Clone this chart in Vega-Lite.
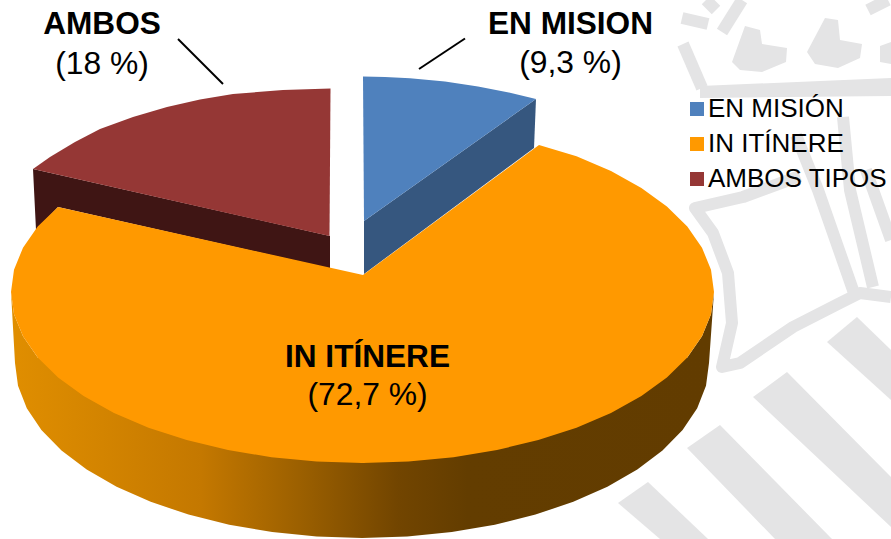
{
"$schema":"https://vega.github.io/schema/vega-lite/v6.json",
"width":891,"height":539,"padding":0,"autosize":{"type":"none"},
"background":"#ffffff","view":{"stroke":null},
"datasets":{
"wmFill":[
{"g":"a","i":1,"x":618,"y":503},{"g":"a","i":2,"x":648,"y":482},{"g":"a","i":3,"x":708,"y":539},{"g":"a","i":4,"x":660,"y":539},
{"g":"b","i":1,"x":687,"y":448},{"g":"b","i":2,"x":720,"y":425},{"g":"b","i":3,"x":832,"y":539},{"g":"b","i":4,"x":775,"y":539},
{"g":"c","i":1,"x":753,"y":397},{"g":"c","i":2,"x":787,"y":372},{"g":"c","i":3,"x":891,"y":477},{"g":"c","i":4,"x":891,"y":527},
{"g":"d","i":1,"x":827,"y":342},{"g":"d","i":2,"x":857,"y":317},{"g":"d","i":3,"x":891,"y":350},{"g":"d","i":4,"x":891,"y":400},
{"g":"band","i":1,"x":700,"y":86},{"g":"band","i":2,"x":891,"y":78},{"g":"band","i":3,"x":891,"y":96},{"g":"band","i":4,"x":700,"y":98},
{"g":"crown1","i":1,"x":732,"y":62},{"g":"crown1","i":2,"x":745,"y":26},{"g":"crown1","i":3,"x":760,"y":30},{"g":"crown1","i":4,"x":762,"y":44},{"g":"crown1","i":5,"x":787,"y":48},{"g":"crown1","i":6,"x":786,"y":62},{"g":"crown1","i":7,"x":762,"y":72},{"g":"crown1","i":8,"x":740,"y":70},
{"g":"crown2","i":1,"x":807,"y":52},{"g":"crown2","i":2,"x":825,"y":18},{"g":"crown2","i":3,"x":838,"y":20},{"g":"crown2","i":4,"x":840,"y":40},{"g":"crown2","i":5,"x":862,"y":44},{"g":"crown2","i":6,"x":860,"y":58},{"g":"crown2","i":7,"x":838,"y":68},{"g":"crown2","i":8,"x":815,"y":64},
{"g":"crown3","i":1,"x":880,"y":46},{"g":"crown3","i":2,"x":891,"y":42},{"g":"crown3","i":3,"x":891,"y":64},{"g":"crown3","i":4,"x":880,"y":62}
],
"wmLine":[
{"g":"p1","i":1,"x":683,"y":44},{"g":"p1","i":2,"x":702,"y":88},
{"g":"p2","i":1,"x":682,"y":18},{"g":"p2","i":2,"x":708,"y":24},
{"g":"p3","i":1,"x":706,"y":0},{"g":"p3","i":2,"x":716,"y":10},
{"g":"p4","i":1,"x":722,"y":32},{"g":"p4","i":2,"x":742,"y":0},
{"g":"p5","i":1,"x":868,"y":10},{"g":"p5","i":2,"x":888,"y":0},
{"g":"p6","i":1,"x":796,"y":135},{"g":"p6","i":2,"x":818,"y":190},{"g":"p6","i":3,"x":854,"y":293},
{"g":"p7","i":1,"x":843,"y":117},{"g":"p7","i":2,"x":850,"y":190},{"g":"p7","i":3,"x":873,"y":287},
{"g":"p8","i":1,"x":866,"y":170},{"g":"p8","i":2,"x":891,"y":240},
{"g":"p9","i":1,"x":800,"y":176},{"g":"p9","i":2,"x":743,"y":197},{"g":"p9","i":3,"x":695,"y":208},{"g":"p9","i":4,"x":713,"y":233},{"g":"p9","i":5,"x":728,"y":273},{"g":"p9","i":6,"x":732,"y":323},{"g":"p9","i":7,"x":722,"y":367},{"g":"p9","i":8,"x":740,"y":363},{"g":"p9","i":9,"x":793,"y":327},{"g":"p9","i":10,"x":840,"y":303},{"g":"p9","i":11,"x":860,"y":293},{"g":"p9","i":12,"x":891,"y":297}
],
"redSide":[{"i":1,"x":33,"y":169},{"i":2,"x":330,"y":236},{"i":3,"x":330,"y":268.5},{"i":4,"x":58,"y":207},{"i":5,"x":36,"y":230}],
"blueSide":[{"i":1,"x":536,"y":99},{"i":2,"x":364,"y":221},{"i":3,"x":364,"y":274},{"i":4,"x":534,"y":148}],
"orangeSide":[
{"i":1,"x":714,"y":292},{"i":2,"x":711,"y":314.3},{"i":3,"x":702,"y":336.3},{"i":4,"x":687.3,"y":357.4},{"i":5,"x":362.5,"y":463},{"i":6,"x":37.7,"y":357.4},{"i":7,"x":23,"y":336.3},{"i":8,"x":14,"y":314.3},{"i":9,"x":11,"y":292},
{"i":10,"x":15,"y":363},{"i":11,"x":18,"y":385.8},{"i":12,"x":26.8,"y":408.3},{"i":13,"x":41.4,"y":430},{"i":14,"x":61.5,"y":450.5},{"i":15,"x":86.7,"y":469.5},{"i":16,"x":116.6,"y":486.7},{"i":17,"x":150.7,"y":501.8},{"i":18,"x":188.5,"y":514.6},{"i":19,"x":229.2,"y":524.7},{"i":20,"x":272.2,"y":532},{"i":21,"x":316.7,"y":536.5},{"i":22,"x":362,"y":538},{"i":23,"x":407.3,"y":536.5},{"i":24,"x":451.8,"y":532},{"i":25,"x":494.8,"y":524.7},{"i":26,"x":535.5,"y":514.6},{"i":27,"x":573.3,"y":501.8},{"i":28,"x":607.4,"y":486.7},{"i":29,"x":637.3,"y":469.5},{"i":30,"x":662.5,"y":450.5},{"i":31,"x":682.6,"y":430},{"i":32,"x":697.2,"y":408.3},{"i":33,"x":706,"y":385.8},{"i":34,"x":709,"y":363}
],
"tops":[
{"s":"EN MISIÓN","i":1,"x":363,"y":76.5},{"s":"EN MISIÓN","i":2,"x":385,"y":77},{"s":"EN MISIÓN","i":3,"x":410,"y":78.2},{"s":"EN MISIÓN","i":4,"x":445,"y":81.5},{"s":"EN MISIÓN","i":5,"x":478,"y":86.4},{"s":"EN MISIÓN","i":6,"x":510,"y":92.7},{"s":"EN MISIÓN","i":7,"x":536,"y":99},{"s":"EN MISIÓN","i":8,"x":364,"y":221},
{"s":"AMBOS TIPOS","i":1,"x":33,"y":169},{"s":"AMBOS TIPOS","i":2,"x":50,"y":157},{"s":"AMBOS TIPOS","i":3,"x":75,"y":142},{"s":"AMBOS TIPOS","i":4,"x":100,"y":129},{"s":"AMBOS TIPOS","i":5,"x":133,"y":117},{"s":"AMBOS TIPOS","i":6,"x":167,"y":107},{"s":"AMBOS TIPOS","i":7,"x":200,"y":99.5},{"s":"AMBOS TIPOS","i":8,"x":233,"y":94},{"s":"AMBOS TIPOS","i":9,"x":283,"y":90},{"s":"AMBOS TIPOS","i":10,"x":330.5,"y":88.5},{"s":"AMBOS TIPOS","i":11,"x":329.5,"y":236},
{"s":"IN ITÍNERE","i":1,"x":539,"y":145},{"s":"IN ITÍNERE","i":2,"x":576.5,"y":156.3},{"s":"IN ITÍNERE","i":3,"x":611,"y":171.1},{"s":"IN ITÍNERE","i":4,"x":641.4,"y":187.9},{"s":"IN ITÍNERE","i":5,"x":666.9,"y":206.5},{"s":"IN ITÍNERE","i":6,"x":687.3,"y":226.6},{"s":"IN ITÍNERE","i":7,"x":702,"y":247.7},{"s":"IN ITÍNERE","i":8,"x":711,"y":269.7},{"s":"IN ITÍNERE","i":9,"x":714,"y":292},{"s":"IN ITÍNERE","i":10,"x":711,"y":314.3},{"s":"IN ITÍNERE","i":11,"x":702,"y":336.3},{"s":"IN ITÍNERE","i":12,"x":687.3,"y":357.4},{"s":"IN ITÍNERE","i":13,"x":666.9,"y":377.5},{"s":"IN ITÍNERE","i":14,"x":641.4,"y":396.1},{"s":"IN ITÍNERE","i":15,"x":611,"y":412.9},{"s":"IN ITÍNERE","i":16,"x":576.5,"y":427.7},{"s":"IN ITÍNERE","i":17,"x":538.3,"y":440.1},{"s":"IN ITÍNERE","i":18,"x":497,"y":450},{"s":"IN ITÍNERE","i":19,"x":453.5,"y":457.2},{"s":"IN ITÍNERE","i":20,"x":408.4,"y":461.5},{"s":"IN ITÍNERE","i":21,"x":362.5,"y":463},{"s":"IN ITÍNERE","i":22,"x":316.6,"y":461.5},{"s":"IN ITÍNERE","i":23,"x":271.5,"y":457.2},{"s":"IN ITÍNERE","i":24,"x":228,"y":450},{"s":"IN ITÍNERE","i":25,"x":186.7,"y":440.1},{"s":"IN ITÍNERE","i":26,"x":148.5,"y":427.7},{"s":"IN ITÍNERE","i":27,"x":114,"y":412.9},{"s":"IN ITÍNERE","i":28,"x":83.6,"y":396.1},{"s":"IN ITÍNERE","i":29,"x":58.1,"y":377.5},{"s":"IN ITÍNERE","i":30,"x":37.7,"y":357.4},{"s":"IN ITÍNERE","i":31,"x":23,"y":336.3},{"s":"IN ITÍNERE","i":32,"x":14,"y":314.3},{"s":"IN ITÍNERE","i":33,"x":11,"y":292},{"s":"IN ITÍNERE","i":34,"x":14,"y":269.7},{"s":"IN ITÍNERE","i":35,"x":23,"y":247.7},{"s":"IN ITÍNERE","i":36,"x":37.7,"y":226.6},{"s":"IN ITÍNERE","i":37,"x":58,"y":207},{"s":"IN ITÍNERE","i":38,"x":363,"y":275}
],
"leaders":[{"x":178,"y":39,"x2":223,"y2":84},{"x":419,"y":69,"x2":465,"y2":38.5}],
"names":[{"t":"AMBOS","x":102,"y":33.5},{"t":"EN MISION","x":570.5,"y":33.5},{"t":"IN ITÍNERE","x":367.5,"y":366.5}],
"pcts":[{"t":"(18 %)","x":102,"y":73.5},{"t":"(9,3 %)","x":570.5,"y":73},{"t":"(72,7 %)","x":367.5,"y":405}]
},
"encoding":{
"x":{"field":"x","type":"quantitative","scale":{"domain":[0,891],"nice":false,"zero":false},"axis":null},
"y":{"field":"y","type":"quantitative","scale":{"domain":[539,0],"nice":false,"zero":false},"axis":null}
},
"layer":[
{"data":{"name":"wmFill"},"mark":{"type":"line","filled":true,"color":"#e4e4e5","clip":true},"encoding":{"detail":{"field":"g"},"order":{"field":"i","type":"quantitative"}}},
{"data":{"name":"wmLine"},"mark":{"type":"line","color":"#e4e4e5","strokeWidth":12,"strokeJoin":"round","clip":true},"encoding":{"detail":{"field":"g"},"order":{"field":"i","type":"quantitative"}}},
{"data":{"name":"redSide"},"mark":{"type":"line","filled":true,"color":"#3f1514"},"encoding":{"order":{"field":"i","type":"quantitative"}}},
{"data":{"name":"blueSide"},"mark":{"type":"line","filled":true,"color":"#36577f"},"encoding":{"order":{"field":"i","type":"quantitative"}}},
{"data":{"name":"orangeSide"},"mark":{"type":"line","filled":true,"color":{"gradient":"linear","x1":0,"y1":0,"x2":1,"y2":0,"stops":[{"offset":0,"color":"#e08e00"},{"offset":0.13,"color":"#d38400"},{"offset":0.27,"color":"#c47800"},{"offset":0.41,"color":"#9c6000"},{"offset":0.55,"color":"#724500"},{"offset":0.65,"color":"#633d00"},{"offset":1,"color":"#623c00"}]}},"encoding":{"order":{"field":"i","type":"quantitative"}}},
{"data":{"name":"tops"},"mark":{"type":"line","filled":true},"encoding":{
"order":{"field":"i","type":"quantitative"},
"color":{"field":"s","type":"nominal","scale":{"domain":["EN MISIÓN","IN ITÍNERE","AMBOS TIPOS"],"range":["#4f81bd","#ff9900","#953735"]},
"legend":{"title":null,"orient":"none","legendX":684,"legendY":96,"symbolType":"square","symbolSize":196,"symbolStrokeWidth":0,"labelFont":"Liberation Sans","labelFontSize":26,"labelColor":"#000000","labelLimit":300,"rowPadding":9,"labelOffset":-2,"padding":0}}}},
{"data":{"name":"leaders"},"mark":{"type":"rule","color":"#000000","strokeWidth":2},"encoding":{"x2":{"field":"x2"},"y2":{"field":"y2"}}},
{"data":{"name":"names"},"mark":{"type":"text","font":"Liberation Sans","fontWeight":"bold","fontSize":31.6,"baseline":"alphabetic","align":"center","color":"#000000"},"encoding":{"text":{"field":"t"}}},
{"data":{"name":"pcts"},"mark":{"type":"text","font":"Liberation Sans","fontSize":31.8,"baseline":"alphabetic","align":"center","color":"#000000"},"encoding":{"text":{"field":"t"}}}
]
}
